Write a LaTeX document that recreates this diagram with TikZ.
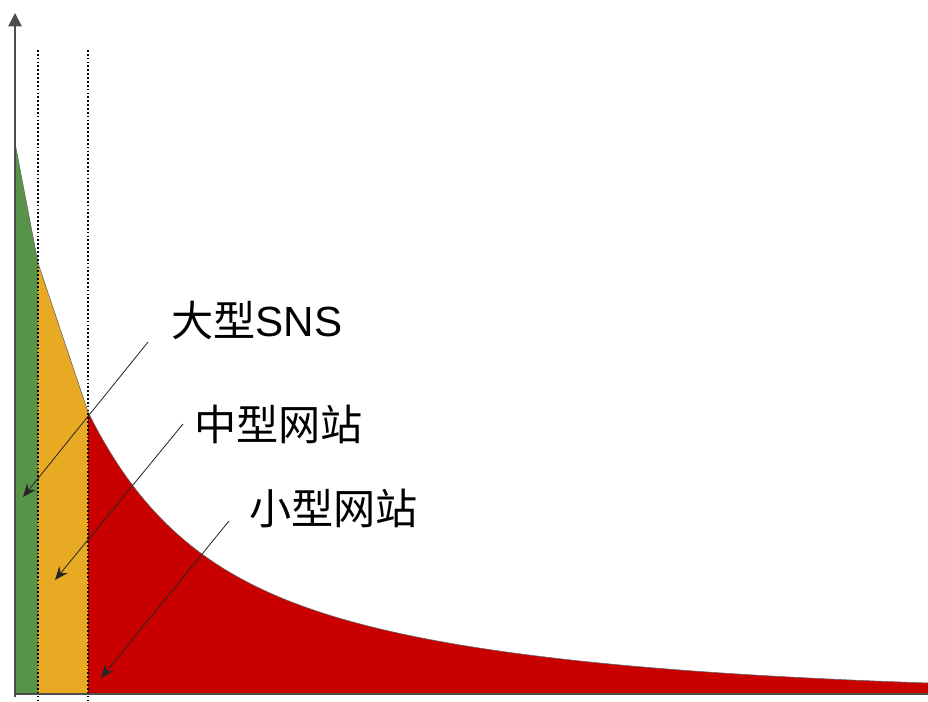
\documentclass[tikz,border=0pt]{standalone}
\usepackage{fontspec}
\setmainfont{Liberation Sans}
\newfontfamily\cjk{Noto Sans CJK SC}
\usepackage{tikz}
\definecolor{bigsnsgreen}{RGB}{88,148,72}
\definecolor{midsiteyellow}{RGB}{232,170,34}
\definecolor{smallsitered}{RGB}{200,0,0}
\usetikzlibrary{arrows.meta}
\tikzset{
	sitelabel/.style={inner sep=0pt, font=\fontsize{36}{40}\selectfont},
	pointer/.style={-{Stealth[length=4mm, width=3.2mm]}, line width=0.7pt, black!85},
	divider/.style={line width=1.3pt, dash pattern=on 1.5pt off 1.8pt},
	axisline/.style={line width=1.1pt, black!70},
	tailcurve/.style={domain=88:928, samples=150}
}

\begin{document}
\begin{tikzpicture}[x=0.03cm, y=-0.03cm]
	\useasboundingbox (0,0) rectangle (928,701);
	
	\fill[bigsnsgreen] (15,694) -- (15,143) -- (38,263) -- (38,694) -- cycle;
	
	\fill[midsiteyellow] (38,694) -- (38,263) -- (88,412) -- (88,694) -- cycle;
	
	\fill[smallsitered] (88,694) -- plot[tailcurve] (\x, {694-130*exp(-(\x-88)/84)-152*exp(-(\x-88)/320)}) -- (928,694) -- cycle;
	
	\draw[black!60, line width=0.5pt] (15,143) -- (38,263) -- plot[tailcurve] (\x, {694-130*exp(-(\x-88)/84)-152*exp(-(\x-88)/320)});
	
	\draw[divider] (38,50) -- (38,703);
	
	\draw[divider] (88,50) -- (88,703);
	
	\draw[axisline, -{Triangle[length=4mm, width=4mm]}] (15,697) -- (15,13);
	
	\draw[axisline] (15,694) -- (928,694);
	
	\node[sitelabel, anchor=west] (bigsns) at (171,320) {{\cjk 大型}SNS};
	
	\node[sitelabel, anchor=west] (midsite) at (194,424) {\cjk 中型网站};
	
	\node[sitelabel, anchor=west] (smallsite) at (249,508) {\cjk 小型网站};
	
	\coordinate (bigtip) at (23,497);
	
	\coordinate (midtip) at (55,580);
	
	\coordinate (smalltip) at (101,678);
	
	\draw[pointer] ([shift={(-23,22)}]bigsns.west) -- (bigtip);
	
	\draw[pointer] ([shift={(-11,0)}]midsite.west) -- (midtip);
	
	\draw[pointer] ([shift={(-20,13)}]smallsite.west) -- (smalltip);
\end{tikzpicture}
\end{document}
